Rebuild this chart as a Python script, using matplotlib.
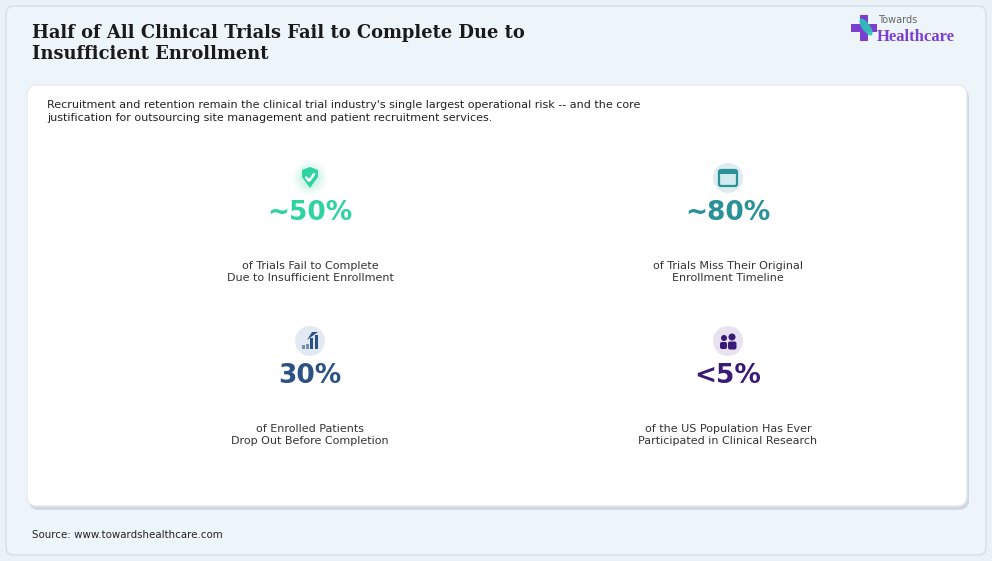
import numpy as np
import matplotlib.pyplot as plt
from matplotlib.patches import FancyBboxPatch, Circle, Rectangle, Polygon, Ellipse

# chart content
title_lines = ["Half of All Clinical Trials Fail to Complete Due to", "Insufficient Enrollment"]
subtitle = ("Recruitment and retention remain the clinical trial industry's single largest operational risk -- and the core\n"
            "justification for outsourcing site management and patient recruitment services.")
stat_values = ["~50%", "~80%", "30%", "<5%"]
stat_labels = ["of Trials Fail to Complete\nDue to Insufficient Enrollment",
               "of Trials Miss Their Original\nEnrollment Timeline",
               "of Enrolled Patients\nDrop Out Before Completion",
               "of the US Population Has Ever\nParticipated in Clinical Research"]
stat_colors = ["#2fd3a2", "#2a9199", "#2c5285", "#3a1a78"]
icon_bg = ["#ffffff", "#dcecef", "#e3e9f2", "#e8e1ef"]
icon_kind = ["shield", "calendar", "bars", "people"]
source = "Source: www.towardshealthcare.com"

W, H = 992, 561
fig = plt.figure(figsize=(W / 100, H / 100), dpi=100)
ax = fig.add_axes([0, 0, 1, 1])
ax.set_xlim(0, W)
ax.set_ylim(H, 0)
ax.axis("off")

# background
fig.patch.set_facecolor("#eaf2f8")
outer = FancyBboxPatch((6, 6), W - 12, H - 12, boxstyle="round,pad=0,rounding_size=8",
                       fc="#eef5fa", ec="#d5dee6", lw=1.0)
ax.add_patch(outer)

# title
for i, line in enumerate(title_lines):
    ax.text(32, 33 + i * 21, line, fontsize=12.9, fontweight="bold", family="DejaVu Serif",
            color="#1a1a1a", va="center", ha="left")

# logo
cx, cy = 864, 28
ax.add_patch(Rectangle((cx - 4, cy - 13), 8, 26, fc="#7b3fd0", ec="none"))
ax.add_patch(Rectangle((cx - 13, cy - 4), 26, 8, fc="#7b3fd0", ec="none"))
ax.add_patch(Ellipse((cx + 2, cy - 1), 8, 20, angle=-35, fc="#2ec4b6", ec="none", alpha=0.9))
ax.text(878, 20, "Towards", fontsize=7, color="#666666", va="center", ha="left")
ax.text(877, 37, "Healthcare", fontsize=12, color="#7b3fd0", va="center", ha="left",
        family="Liberation Serif", fontweight="bold")

# white card with shadow
shadow = FancyBboxPatch((29, 88), 940, 422, boxstyle="round,pad=0,rounding_size=10",
                        fc="#c9d2da", ec="none", alpha=0.8)
ax.add_patch(shadow)
card = FancyBboxPatch((27, 85), 940, 421, boxstyle="round,pad=0,rounding_size=10",
                      fc="white", ec="#e3e8ee", lw=0.8)
ax.add_patch(card)

ax.text(47, 111.5, subtitle, fontsize=8, color="#222222", va="center", ha="left", linespacing=1.3)


def draw_icon(x, y, kind, color, bg):
    if kind == "shield":
        for r, a in zip([17, 14, 11], [0.05, 0.07, 0.09]):
            ax.add_patch(Circle((x, y), r, fc=color, ec="none", alpha=a))
        pts = [(x - 8, y - 8), (x, y - 11), (x + 8, y - 8), (x + 8, y - 1), (x, y + 10), (x - 8, y - 1)]
        ax.add_patch(Polygon(pts, closed=True, fc=color, ec="none"))
        ax.plot([x - 3.8, x - 0.8, x + 4], [y - 0.5, y + 2.8, y - 3.8], color="white", lw=1.8,
                solid_capstyle="round")
    else:
        ax.add_patch(Circle((x, y), 15, fc=bg, ec="none"))
        if kind == "calendar":
            ax.add_patch(FancyBboxPatch((x - 9, y - 8), 18, 16, boxstyle="round,pad=0,rounding_size=2",
                                        fc="#d2ebee", ec=color, lw=1.6))
            ax.add_patch(Rectangle((x - 9, y - 8), 18, 4, fc=color, ec="none"))
        elif kind == "bars":
            for bx, bh in zip([-8, -4, 0, 4.5], [4, 5, 11, 14]):
                ax.add_patch(Rectangle((x + bx, y + 8 - bh), 3.2, bh, fc=color, ec="none",
                                       alpha=0.6 if bh < 6 else 1))
            ax.add_patch(Polygon([(x - 3, y - 1), (x + 2, y - 9), (x + 8, y - 9)], closed=True,
                                 fc=color, ec="none"))
        elif kind == "people":
            ax.add_patch(Circle((x - 4, y - 3), 3, fc=color, ec="none"))
            ax.add_patch(Circle((x + 4, y - 4), 3.5, fc=color, ec="none"))
            ax.add_patch(FancyBboxPatch((x - 8, y + 1), 7, 7, boxstyle="round,pad=0,rounding_size=2",
                                        fc=color, ec="none"))
            ax.add_patch(FancyBboxPatch((x, y + 0.5), 8.5, 8, boxstyle="round,pad=0,rounding_size=2",
                                        fc=color, ec="none"))


col_x = [310, 728]
row_y = [178, 341]
for i in range(4):
    x = col_x[i % 2]
    y = row_y[i // 2]
    draw_icon(x, y, icon_kind[i], stat_colors[i], icon_bg[i])
    ax.text(x, y + 35, stat_values[i], fontsize=19, fontweight="bold", color=stat_colors[i],
            va="center", ha="center")
    ax.text(x, y + 93.5, stat_labels[i], fontsize=8, color="#333333", va="center", ha="center",
            linespacing=1.25)

ax.text(32, 535, source, fontsize=7.4, color="#222222", va="center", ha="left")

fig.savefig("out.png", dpi=100, facecolor=fig.get_facecolor())
